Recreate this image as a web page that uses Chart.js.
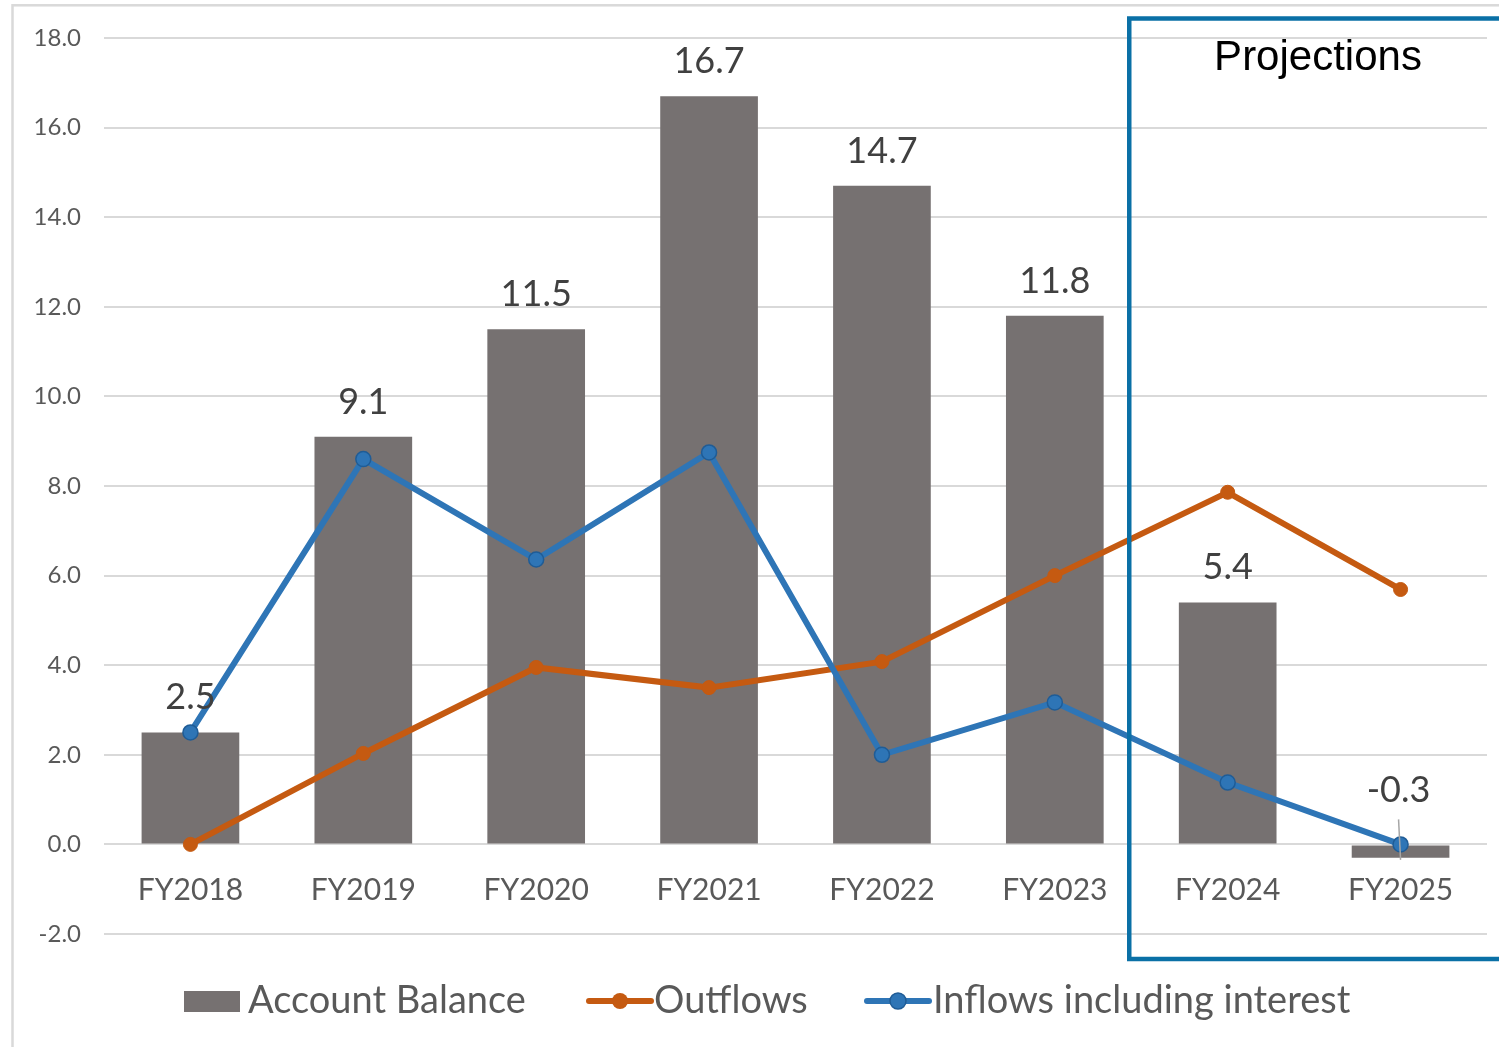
<!DOCTYPE html>
<html>
<head>
<meta charset="utf-8">
<script src="https://cdn.jsdelivr.net/npm/chart.js@4.4.1/dist/chart.umd.min.js"></script>
<style>
  html, body { margin: 0; padding: 0; background: #fff; }
  #wrap { width: 1499px; height: 1047px; position: relative; }
</style>
</head>
<body>
<div id="wrap"><canvas id="chart" width="1499" height="1047"></canvas></div>
<script>
// === Data ===
const years = ["FY2018", "FY2019", "FY2020", "FY2021", "FY2022", "FY2023", "FY2024", "FY2025"];
const balance = [2.5, 9.1, 11.5, 16.7, 14.7, 11.8, 5.4, -0.3];
const outflows = [0.0, 2.03, 3.95, 3.5, 4.08, 6.0, 7.86, 5.69];
const inflows = [2.5, 8.6, 6.36, 8.75, 2.0, 3.17, 1.38, 0.0];
const yMin = -2, yMax = 18, yStep = 2;
const seriesNames = ["Account Balance", "Outflows", "Inflows including interest"];
const projectionLabel = "Projections";

// === Colours / fonts ===
const BAR = "#767171";
const ORANGE = "#C55A11";
const BLUE = "#2E75B6";
const BLUE_DARK = "#1F5C96";
const TEXT = "#595959";
const GRID = "#D9D9D9";
const BOX = "#0A70A6";
const FONT = "Lato, 'Open Sans', sans-serif";

// === Extras drawn on the canvas ===
const extras = {
  id: "extras",
  beforeDraw(chart) {
    const ctx = chart.ctx;
    ctx.save();
    ctx.fillStyle = "#fff";
    ctx.fillRect(0, 0, chart.width, chart.height);
    // outer frame (only top and left visible)
    ctx.strokeStyle = "#D9D9D9";
    ctx.lineWidth = 2.5;
    ctx.strokeRect(12.5, 5.3, chart.width + 20, chart.height + 20);
    ctx.restore();
  },
  afterDraw(chart) {
    const ctx = chart.ctx;
    const xs = chart.scales.x, ys = chart.scales.y;
    const zero = ys.getPixelForValue(0);
    const bars = chart.getDatasetMeta(0).data;
    ctx.save();

    // value labels on bars
    ctx.fillStyle = "#404040";
    ctx.font = "36px " + FONT;
    ctx.textAlign = "center";
    ctx.textBaseline = "alphabetic";
    balance.forEach((v, i) => {
      const b = bars[i];
      if (v >= 0) {
        ctx.fillText(v.toFixed(1), b.x, b.y - 23);
      } else {
        ctx.fillText(v.toFixed(1), b.x - 2, zero - 42);
        // leader line
        ctx.strokeStyle = "#A6A6A6";
        ctx.lineWidth = 1.5;
        ctx.beginPath();
        ctx.moveTo(b.x - 2, zero - 25);
        ctx.lineTo(b.x, b.y + 2);
        ctx.stroke();
      }
    });

    // category labels below the zero line
    ctx.fillStyle = TEXT;
    ctx.font = "30px " + FONT;
    ctx.textBaseline = "middle";
    years.forEach((y, i) => {
      ctx.fillText(y, xs.getPixelForValue(i), zero + 46);
    });

    // projections box
    const left = (xs.getPixelForValue(5) + xs.getPixelForValue(6)) / 2 - 12;
    ctx.strokeStyle = BOX;
    ctx.lineWidth = 4.5;
    ctx.strokeRect(left, 18.5, chart.width, 940.5);
    ctx.fillStyle = "#000";
    ctx.font = "42px 'Liberation Sans', Arial, sans-serif";
    ctx.textBaseline = "alphabetic";
    ctx.fillText(projectionLabel, 1318, 70);

    // legend
    const ly = 1001;
    ctx.font = "38px " + FONT;
    ctx.textAlign = "left";
    ctx.textBaseline = "middle";
    ctx.fillStyle = BAR;
    ctx.fillRect(184, 991, 56, 21);
    ctx.fillStyle = TEXT;
    ctx.fillText(seriesNames[0], 248, ly);

    const lineItem = (x0, color, border, text, tx) => {
      ctx.strokeStyle = color;
      ctx.lineWidth = 6;
      ctx.lineCap = "round";
      ctx.beginPath();
      ctx.moveTo(x0, ly);
      ctx.lineTo(x0 + 62, ly);
      ctx.stroke();
      ctx.fillStyle = color;
      ctx.beginPath();
      ctx.arc(x0 + 31, ly, 8, 0, Math.PI * 2);
      ctx.fill();
      if (border) {
        ctx.strokeStyle = border;
        ctx.lineWidth = 1.5;
        ctx.stroke();
      }
      ctx.fillStyle = TEXT;
      ctx.fillText(text, tx, ly);
    };
    lineItem(589, ORANGE, null, seriesNames[1], 654);
    lineItem(867, BLUE, BLUE_DARK, seriesNames[2], 933);
    ctx.restore();
  }
};

// === Chart ===
new Chart(document.getElementById("chart").getContext("2d"), {
  type: "bar",
  data: {
    labels: years,
    datasets: [
      {
        type: "bar",
        label: seriesNames[0],
        data: balance,
        backgroundColor: BAR,
        barPercentage: 0.565,
        categoryPercentage: 1,
        order: 3,
      },
      {
        type: "line",
        label: seriesNames[1],
        data: outflows,
        borderColor: ORANGE,
        borderWidth: 6,
        pointRadius: 7,
        pointBackgroundColor: ORANGE,
        pointBorderColor: ORANGE,
        pointBorderWidth: 1,
        tension: 0,
        order: 2,
      },
      {
        type: "line",
        label: seriesNames[2],
        data: inflows,
        borderColor: BLUE,
        borderWidth: 6,
        pointRadius: 7.5,
        pointBackgroundColor: BLUE,
        pointBorderColor: BLUE_DARK,
        pointBorderWidth: 1.5,
        tension: 0,
        order: 1,
      },
    ],
  },
  options: {
    responsive: false,
    animation: false,
    devicePixelRatio: 1,
    layout: { padding: { top: 38, bottom: 113, right: 12, left: 0 } },
    plugins: { legend: { display: false }, tooltip: { enabled: false } },
    scales: {
      x: { display: false },
      y: {
        min: yMin,
        max: yMax,
        afterFit(scale) { scale.width = 104; },
        ticks: {
          stepSize: yStep,
          padding: 23,
          color: TEXT,
          font: { family: FONT, size: 24 },
          callback: (v) => Number(v).toFixed(1),
        },
        grid: { color: GRID, lineWidth: 2, drawTicks: false },
        border: { display: false },
      },
    },
  },
  plugins: [extras],
});
</script>
</body>
</html>
